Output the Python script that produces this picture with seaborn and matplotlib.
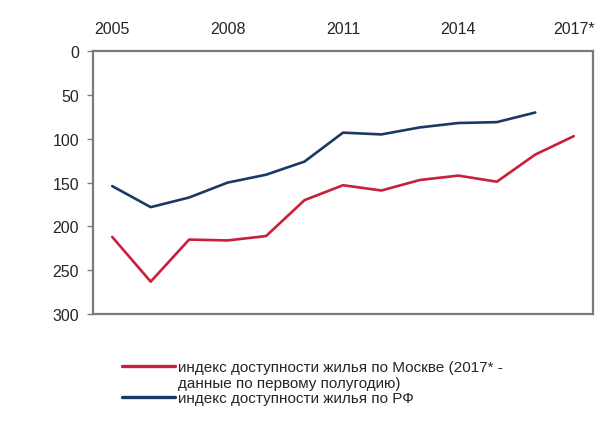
import numpy as np
import pandas as pd
import matplotlib
matplotlib.use("Agg")
import matplotlib.pyplot as plt
from matplotlib.lines import Line2D
import seaborn as sns

# данные
years = [2005, 2006, 2007, 2008, 2009, 2010, 2011, 2012, 2013, 2014, 2015, 2016, 2017]
moscow = [212, 263, 215, 216, 211, 170, 153, 159, 147, 142, 149, 118, 97]
russia = [154, 178, 167, 150, 141, 126, 93, 95, 87, 82, 81, 70, np.nan]

tick_years = [2005, 2008, 2011, 2014, 2017]
tick_labels = ["2005", "2008", "2011", "2014", "2017*"]

label_msk = "индекс доступности жилья по Москве (2017* -"
label_msk2 = "данные по первому полугодию)"
label_rf = "индекс доступности жилья по РФ"

sns.set_style("white")
plt.rcParams['font.family'] = ['Liberation Sans', 'DejaVu Sans']
plt.rcParams['font.size'] = 11.5

df = pd.DataFrame({"year": years, label_msk: moscow, label_rf: russia})
long = df.melt(id_vars="year", var_name="series", value_name="value").dropna()

fig = plt.figure(figsize=(6.02, 4.31), dpi=100)
ax = fig.add_axes([0.1545, 0.269, 0.8305, 0.61])

sns.lineplot(data=long, x="year", y="value", hue="series",
             palette={label_msk: "#C8203A", label_rf: "#1B3A63"},
             linewidth=1.9, ax=ax, legend=True)

ax.set_xlim(2004.5, 2017.5)
ax.set_ylim(300, 0)
ax.set_yticks(range(0, 301, 50))
ax.set_xticks(tick_years)
ax.set_xticklabels(tick_labels)
ax.xaxis.tick_top()
ax.tick_params(axis="x", length=0, pad=11, labelsize=11.5)
ax.tick_params(axis="y", left=True, length=4, width=1, color="#808080",
               direction="out", pad=6, labelsize=11.5)
ax.set_xlabel("")
ax.set_ylabel("")

# рамка
for _, spine in ax.spines.items():
    spine.set_visible(True)
    spine.set_linewidth(1.6)
    spine.set_color("#7a7a7a")

# легенда: подпись Москвы в две строки, линия у первой строки
handles, labels = ax.get_legend_handles_labels()
h = dict(zip(labels, handles))
blank = Line2D([], [], linestyle="none")
leg = ax.legend([h[label_msk], blank, h[label_rf]], [label_msk, label_msk2, label_rf],
                loc="upper left", bbox_to_anchor=(0.19, 0.18),
                bbox_transform=fig.transFigure, frameon=False, handlelength=3.5,
                handletextpad=0.15, labelspacing=0.1, fontsize=11, borderpad=0)
for line in leg.get_lines():
    line.set_linewidth(2.4)

fig.savefig("out.png", dpi=100)
